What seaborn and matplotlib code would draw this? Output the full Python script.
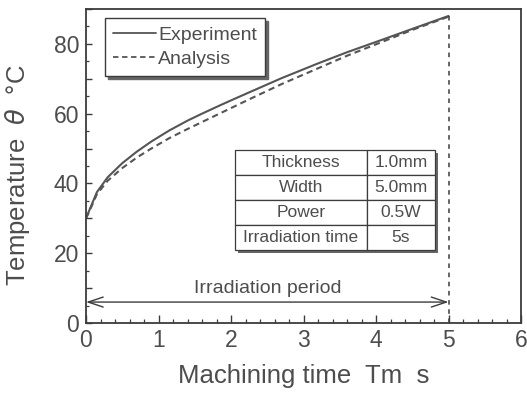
import numpy as np
import pandas as pd
import matplotlib
matplotlib.use("Agg")
import matplotlib.pyplot as plt
from matplotlib.patches import Rectangle
from matplotlib.ticker import MultipleLocator, FuncFormatter
import seaborn as sns

# Temperature history during laser irradiation
time_s = [0.0, 0.05, 0.15, 0.3, 0.5, 0.7, 0.9, 1.15, 1.4, 1.6, 1.85, 2.0, 2.25,
          2.7, 3.2, 3.6, 4.1, 4.5, 5.0]
experiment = [30.0, 32.5, 37.5, 41.8, 45.8, 49.1, 52.0, 55.2, 58.0, 60.0, 62.4, 63.8, 66.1,
              70.2, 74.4, 77.6, 81.3, 84.3, 88.0]
analysis = [30.0, 32.2, 36.9, 40.8, 44.4, 47.4, 50.0, 53.0, 55.6, 57.6, 60.1, 61.6, 64.1,
            68.5, 73.0, 76.6, 80.7, 84.0, 87.8]

series_names = ["Experiment", "Analysis"]
irradiation_end = 5.0
period_label = "Irradiation period"

table_rows = ["Thickness", "Width", "Power", "Irradiation time"]
table_vals = ["1.0mm", "5.0mm", "0.5W", "5s"]

x_ticks = [0, 1, 2, 3, 4, 5, 6]

sns.set_theme(style="white")
plt.rcParams["font.family"] = ["Liberation Sans", "DejaVu Sans"]
plt.rcParams["mathtext.fontset"] = "dejavusans"

TXT = "#4d4d4d"
LN = "#3c3c3c"

df = pd.DataFrame({
    "t": time_s * 2,
    "temp": experiment + analysis,
    "kind": [series_names[0]] * len(time_s) + [series_names[1]] * len(time_s),
})

fig = plt.figure(figsize=(5.27, 3.94), dpi=100)
ax = fig.add_axes([86 / 527, 1 - 323 / 394, 435 / 527, 314 / 394])

sns.lineplot(data=df, x="t", y="temp", style="kind", style_order=series_names,
             dashes={series_names[0]: "", series_names[1]: (3, 2)},
             color="#555555", linewidth=1.5, ax=ax, legend=False)

ax.set_xlim(0, 6)
ax.set_ylim(0, 90)

# end of irradiation marker
ax.plot([irradiation_end, irradiation_end], [0, experiment[-1]], color=LN,
        linestyle=(0, (3, 3)), linewidth=1.1)

# irradiation period arrow
ax.annotate("", xy=(0, 6), xytext=(irradiation_end, 6),
            arrowprops=dict(arrowstyle="<->,head_length=0.9,head_width=0.3",
                            color=LN, lw=1.0, shrinkA=0, shrinkB=0))
ax.text(irradiation_end / 2, 7.4, period_label, ha="center", va="bottom",
        fontsize=14, color=TXT)

# legend
handles = [plt.Line2D([], [], color="#555555", lw=1.3, linestyle="-"),
           plt.Line2D([], [], color="#555555", lw=1.3, linestyle=(0, (3, 2)))]
leg = ax.legend(handles, series_names, loc="upper left",
                bbox_to_anchor=(19 / 435, 1 - 9 / 314), fontsize=14,
                handlelength=2.2, handletextpad=0.1, labelspacing=0.35,
                borderpad=0.42, borderaxespad=0, fancybox=False,
                shadow={"color": "#666666", "alpha": 1.0, "ox": 2, "oy": -2},
                labelcolor=TXT, frameon=True)
leg.get_frame().set_edgecolor(LN)
leg.get_frame().set_linewidth(1.0)

# condition table
tx0, ty0, tw, th = (235 - 86) / 435, (323 - 250) / 314, 200 / 435, 100 / 314
shadow = Rectangle((tx0 + 2.5 / 435, ty0 - 2.5 / 314), tw, th, transform=ax.transAxes,
                   facecolor="#666666", edgecolor="none", zorder=4)
ax.add_patch(shadow)
tbl = ax.table(cellText=[[r, v] for r, v in zip(table_rows, table_vals)],
               colWidths=[0.66, 0.34], bbox=[tx0, ty0, tw, th], cellLoc="center")
tbl.auto_set_font_size(False)
tbl.set_fontsize(12.5)
tbl.set_zorder(5)
for cell in tbl.get_celld().values():
    cell.set_edgecolor(LN)
    cell.set_linewidth(0.9)
    cell.set_facecolor("white")
    cell.get_text().set_color(TXT)

# ticks
ax.xaxis.set_major_locator(MultipleLocator(1))
ax.xaxis.set_minor_locator(MultipleLocator(0.2))
ax.yaxis.set_major_locator(MultipleLocator(10))
ax.yaxis.set_minor_locator(MultipleLocator(5))
ax.yaxis.set_major_formatter(FuncFormatter(lambda v, p: f"{v:.0f}" if int(round(v)) % 20 == 0 else ""))
ax.tick_params(axis="both", which="both", direction="in", colors=LN,
               labelcolor=TXT, labelsize=16.5, bottom=True, left=True)
ax.tick_params(axis="x", which="major", length=6, width=1.0, pad=4)
ax.tick_params(axis="x", which="minor", length=3, width=0.9)
ax.tick_params(axis="y", which="major", length=4, width=1.0, pad=5)
ax.tick_params(axis="y", which="minor", length=2.5, width=0.9)
ax.set_xticks(x_ticks)

for s in ax.spines.values():
    s.set_color(LN)
    s.set_linewidth(1.3)

ax.set_xlabel("Machining time  Tm  s", fontsize=18.5, color=TXT)
ax.set_ylabel("Temperature  $\\theta$  °C", fontsize=18.5, color=TXT)
ax.xaxis.set_label_coords(0.5, -0.132)
ax.yaxis.set_label_coords(-0.124, 0.47)

fig.savefig("out.png", dpi=100)
